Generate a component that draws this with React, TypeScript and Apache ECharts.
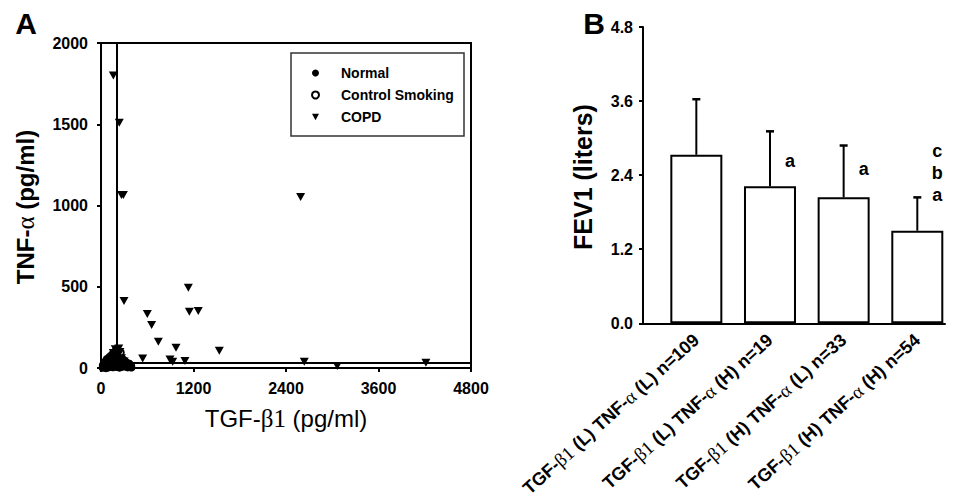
import React, { useEffect, useRef } from 'react';
import * as echarts from 'echarts';

const SANS = "'Liberation Sans', Arial, sans-serif";
const SERIF = "'Liberation Serif', 'DejaVu Serif', serif";

// ---------- Panel A data: TGF-β1 (x) vs TNF-α (y) ----------
const normalPoints: number[][] = [
  [20, 2], [35, 10], [45, 25], [55, 5], [60, 40], [70, 15], [75, 55], [85, 28], [90, 3], [100, 45],
  [105, 18], [110, 70], [120, 32], [125, 8], [130, 55], [140, 20], [145, 85], [150, 40], [155, 5],
  [165, 65], [170, 28], [175, 100], [180, 12], [190, 50], [195, 80], [200, 25], [210, 60], [215, 8],
  [225, 40], [235, 18], [245, 55], [255, 30], [265, 8], [280, 20], [295, 35], [310, 10], [330, 18],
  [350, 5], [370, 12], [395, 3], [60, 20], [130, 30], [160, 50], [240, 35], [290, 15], [320, 28],
];
const controlSmokingPoints: number[][] = [
  [30, 18], [50, 35], [65, 2], [80, 48], [95, 22], [115, 60], [135, 10], [150, 75], [160, 30],
  [175, 50], [185, 90], [200, 10], [205, 45], [220, 70], [230, 25], [240, 5], [250, 42], [260, 62],
  [275, 12], [290, 48], [305, 22], [320, 35], [340, 8], [360, 25], [385, 15], [250, 95],
];
const copdPoints: number[][] = [
  [160, 92], [246, 98], [215, 75], [265, 60], [185, 115], [230, 120], [300, 40], [340, 25],
  [140, 45], [380, 8],
  [160, 1800], [237, 1510], [265, 1065], [290, 1065], [2590, 1052], [298, 412], [1133, 494],
  [1146, 346], [1262, 351], [601, 332], [657, 265], [744, 162], [973, 125], [1535, 106],
  [540, 59], [895, 53], [930, 39], [1089, 43], [2637, 39], [3065, 12], [4215, 33],
];
const tgfCutoff = 203;
const tnfCutoff = 31;
const xRangeA = [0, 4800, 1200];
const yRangeA = [0, 2000, 500];

// ---------- Panel B data: FEV1 by group ----------
const tgfGroup = ['L', 'L', 'H', 'H'];
const tnfGroup = ['L', 'H', 'L', 'H'];
const groupN = [109, 19, 33, 54];
const fev1Mean = [2.73, 2.22, 2.04, 1.5];
const fev1SD = [0.9, 0.89, 0.84, 0.54];
const sigLetters = ['', 'a', 'a', 'c\nb\na'];
const sigLevel = [0, 2.63, 2.5, 2.44];
const yRangeB = [0, 4.8, 1.2];

const CAT_OFFSET = 0.724;
const CAT_MAX = 4.1;

const tri = 'path://M0,0L10,0L5,9Z';

export default function App() {
  const ref = useRef<HTMLDivElement>(null);
  useEffect(() => {
    if (!ref.current) return;
    const chart = echarts.init(ref.current, undefined, { renderer: 'svg' });
    const pos = fev1Mean.map((_, i) => i + CAT_OFFSET);
    const richLabel = {
      t: { fontFamily: SANS, fontWeight: 'bold', fontSize: 18, color: '#000' },
      g: { fontFamily: SERIF, fontWeight: 'normal', fontSize: 19, color: '#000' },
    };
    const tickA = { fontFamily: SANS, fontWeight: 'bold', fontSize: 16, color: '#000' };
    const option: any = {
      animation: false,
      grid: [
        { left: 101, top: 43, width: 370, height: 325, show: true, borderColor: '#000', borderWidth: 2, backgroundColor: 'transparent' },
        { left: 643, top: 27, width: 302, height: 299 },
      ],
      xAxis: [
        {
          type: 'value', gridIndex: 0, min: xRangeA[0], max: xRangeA[1], interval: xRangeA[2],
          axisLine: { show: true, lineStyle: { color: '#000', width: 2 } },
          axisTick: { show: true, length: 4, lineStyle: { color: '#000', width: 2 } },
          axisLabel: { ...tickA, margin: 12, formatter: (v: number) => String(v) },
          splitLine: { show: false },
        },
        {
          type: 'value', gridIndex: 1, min: 0, max: CAT_MAX,
          axisLine: { show: true, lineStyle: { color: '#000', width: 2 } },
          axisTick: { show: true, inside: true, length: 2, customValues: pos, lineStyle: { color: '#000', width: 1 } },
          axisLabel: {
            customValues: pos, rotate: 42, margin: 14,
            formatter: (v: number) => {
              const i = Math.round(v - CAT_OFFSET);
              return `{t|TGF-}{g|β1}{t| (${tgfGroup[i]}) TNF-}{g|α}{t| (${tnfGroup[i]}) n=${groupN[i]}}`;
            },
            rich: richLabel,
          },
          splitLine: { show: false },
        },
      ],
      yAxis: [
        {
          type: 'value', gridIndex: 0, min: yRangeA[0], max: yRangeA[1], interval: yRangeA[2],
          axisLine: { show: true, lineStyle: { color: '#000', width: 2 } },
          axisTick: { show: true, length: 4, lineStyle: { color: '#000', width: 2 } },
          axisLabel: { ...tickA, margin: 13, formatter: (v: number) => String(v) },
          splitLine: { show: false },
        },
        {
          type: 'value', gridIndex: 1, min: yRangeB[0], max: yRangeB[1], interval: yRangeB[2],
          axisLine: { show: true, lineStyle: { color: '#000', width: 2 } },
          axisTick: { show: true, length: 4, lineStyle: { color: '#000', width: 2 } },
          axisLabel: { fontFamily: SANS, fontWeight: 'bold', fontSize: 16, color: '#000', margin: 10, formatter: (v: number) => v.toFixed(1) },
          splitLine: { show: false },
        },
      ],
      legend: {
        orient: 'vertical', left: 311, top: 65, padding: 0, itemGap: 6,
        itemWidth: 7, itemHeight: 8,
        data: ['Normal', 'Control Smoking', 'COPD'],
        textStyle: { fontFamily: SANS, fontWeight: 'bold', fontSize: 14, color: '#000', lineHeight: 16, padding: [0, 0, 0, 17] },
      },
      series: [
        {
          name: 'Control Smoking', type: 'scatter', xAxisIndex: 0, yAxisIndex: 0, symbol: 'circle', symbolSize: 7,
          itemStyle: { color: '#fff', borderColor: '#000', borderWidth: 2, opacity: 1 }, data: controlSmokingPoints,
        },
        {
          name: 'Normal', type: 'scatter', xAxisIndex: 0, yAxisIndex: 0, symbol: 'circle', symbolSize: 8,
          itemStyle: { color: '#000', opacity: 1 }, data: normalPoints,
        },
        {
          name: 'COPD', type: 'scatter', xAxisIndex: 0, yAxisIndex: 0, symbol: tri, symbolSize: [9, 8],
          itemStyle: { color: '#000', opacity: 1 }, data: copdPoints,
          markLine: {
            silent: true, symbol: ['none', 'none'], label: { show: false },
            lineStyle: { color: '#000', width: 2, type: 'solid', opacity: 1 },
            data: [{ xAxis: tgfCutoff }, { yAxis: tnfCutoff }],
          },
        },
        {
          type: 'bar', xAxisIndex: 1, yAxisIndex: 1, barWidth: 52,
          itemStyle: { color: '#fff', borderColor: '#000', borderWidth: 2 },
          data: fev1Mean.map((m, i) => [pos[i], m]),
        },
        {
          type: 'custom', xAxisIndex: 1, yAxisIndex: 1, clip: false, z: 5,
          encode: { x: 0, y: [1, 2] },
          data: fev1Mean.map((m, i) => [pos[i], m, m + fev1SD[i], sigLevel[i]]),
          renderItem: (params: any, api: any) => {
            const x = api.value(0);
            const p0 = api.coord([x, api.value(1)]);
            const p1 = api.coord([x, api.value(2)]);
            const children: any[] = [
              { type: 'line', shape: { x1: p0[0], y1: p0[1], x2: p1[0], y2: p1[1] }, style: { stroke: '#000', lineWidth: 2 } },
              { type: 'line', shape: { x1: p1[0] - 4, y1: p1[1], x2: p1[0] + 4, y2: p1[1] }, style: { stroke: '#000', lineWidth: 2.5 } },
            ];
            const letters = sigLetters[params.dataIndex];
            if (letters) {
              const ps = api.coord([x, api.value(3)]);
              children.push({
                type: 'text', x: ps[0] + 20, y: ps[1],
                style: { text: letters, fill: '#000', fontFamily: SANS, fontWeight: 'bold', fontSize: 18, lineHeight: 22, align: 'center', verticalAlign: 'middle' },
              });
            }
            return { type: 'group', children };
          },
        },
      ],
      graphic: [
        { type: 'rect', shape: { x: 291, y: 53, width: 173, height: 83 }, style: { fill: 'none', stroke: '#333', lineWidth: 1.5 } },
        { type: 'text', x: 26, y: 23, style: { text: 'A', fontFamily: SANS, fontWeight: 'bold', fontSize: 30, fill: '#000', align: 'center', verticalAlign: 'middle' } },
        { type: 'text', x: 594, y: 23, style: { text: 'B', fontFamily: SANS, fontWeight: 'bold', fontSize: 30, fill: '#000', align: 'center', verticalAlign: 'middle' } },
        {
          type: 'text', x: 25, y: 207, rotation: Math.PI / 2,
          style: {
            text: '{t|TNF-}{g|α}{t| (pg/ml)}', align: 'center', verticalAlign: 'middle',
            rich: {
              t: { fontFamily: SANS, fontWeight: 'bold', fontSize: 24, fill: '#000' },
              g: { fontFamily: SERIF, fontWeight: 'normal', fontSize: 25, fill: '#000' },
            },
          },
        },
        {
          type: 'text', x: 286, y: 418,
          style: {
            text: '{t|TGF-}{g|β1}{t| (pg/ml)}', align: 'center', verticalAlign: 'middle',
            rich: {
              t: { fontFamily: SANS, fontWeight: 'normal', fontSize: 24, fill: '#000' },
              g: { fontFamily: SERIF, fontWeight: 'normal', fontSize: 25, fill: '#000' },
            },
          },
        },
        {
          type: 'text', x: 583, y: 177, rotation: Math.PI / 2,
          style: { text: 'FEV1 (liters)', fontFamily: SANS, fontWeight: 'bold', fontSize: 25, fill: '#000', align: 'center', verticalAlign: 'middle' },
        },
      ],
    };
    chart.setOption(option);
    return () => chart.dispose();
  }, []);
  return <div ref={ref} style={{ position: 'fixed', left: 0, top: 0, width: 957, height: 500, background: '#fff' }} />;
}
